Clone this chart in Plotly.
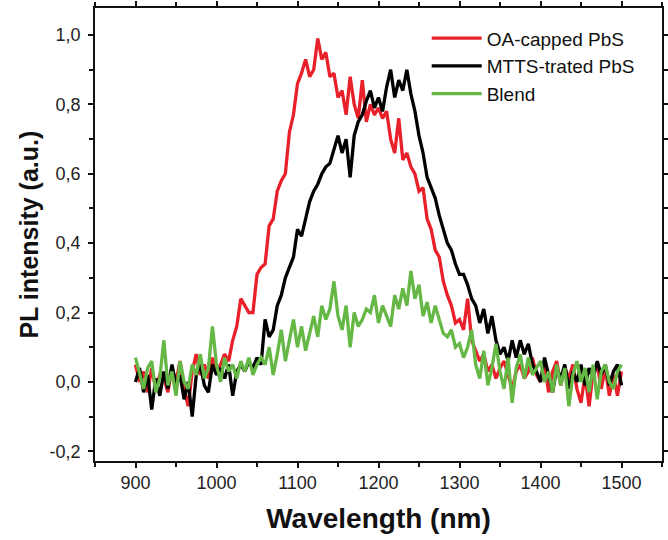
import plotly.graph_objects as go

wavelength = list(range(900, 1501, 5))

oa_capped = [
    0.05, 0.00, 0.03, -0.03, 0.04, -0.02, 0.02, 0.01, -0.03, 0.04,
    0.00, 0.06, -0.02, -0.07, 0.03, 0.08, 0.02, 0.05, 0.01, 0.07,
    0.03, 0.05, 0.08, 0.06, 0.12, 0.16, 0.24, 0.22, 0.20, 0.20,
    0.31, 0.33, 0.34, 0.45, 0.47, 0.55, 0.58, 0.60, 0.72, 0.77,
    0.86, 0.89, 0.93, 0.88, 0.90, 0.99, 0.93, 0.95, 0.88, 0.89,
    0.82, 0.84, 0.77, 0.88, 0.80, 0.76, 0.87, 0.75, 0.80, 0.77,
    0.79, 0.76, 0.78, 0.70, 0.66, 0.76, 0.64, 0.66, 0.62, 0.60,
    0.55, 0.56, 0.47, 0.44, 0.38, 0.36, 0.29, 0.25, 0.22, 0.17,
    0.18, 0.15, 0.24, 0.12, 0.09, 0.06, 0.08, 0.03, 0.05, 0.01,
    0.04, 0.06, 0.02, -0.02, 0.03, 0.05, 0.01, 0.03, 0.07, 0.02,
    0.00, 0.05, -0.03, 0.03, 0.06, -0.01, 0.04, 0.01, 0.05, -0.02,
    -0.06, 0.02, -0.07, 0.03, 0.05, -0.02, 0.04, -0.04, 0.02, -0.04,
    0.03,
]

mtts_treated = [
    0.00, 0.04, -0.03, 0.02, -0.08, 0.01, -0.04, 0.03, -0.02, 0.05,
    -0.01, 0.02, -0.05, 0.00, -0.10, 0.02, 0.05, -0.01, -0.03, 0.05,
    0.02, 0.04, 0.01, 0.05, -0.04, 0.03, 0.05, 0.03, 0.06, 0.04,
    0.07, 0.05, 0.18, 0.13, 0.15, 0.22, 0.25, 0.30, 0.33, 0.36,
    0.44, 0.42, 0.47, 0.52, 0.55, 0.57, 0.60, 0.62, 0.63, 0.67,
    0.71, 0.66, 0.70, 0.59, 0.71, 0.75, 0.77, 0.81, 0.84, 0.79,
    0.82, 0.78, 0.85, 0.90, 0.82, 0.87, 0.84, 0.90, 0.83, 0.78,
    0.71, 0.66, 0.59, 0.56, 0.53, 0.48, 0.44, 0.40, 0.38, 0.34,
    0.31, 0.31, 0.28, 0.24, 0.22, 0.17, 0.21, 0.14, 0.19, 0.12,
    0.08, 0.10, 0.06, 0.12, 0.07, 0.12, 0.08, 0.11, 0.05, 0.03,
    0.00, 0.07, 0.02, -0.03, 0.04, 0.01, 0.05, -0.02, 0.03, 0.00,
    0.05, -0.01, 0.04, 0.01, 0.06, 0.02, 0.05, -0.01, 0.03, 0.05,
    -0.01,
]

blend = [
    0.07, 0.02, -0.02, 0.04, 0.06, -0.03, 0.01, 0.12, -0.01, 0.03,
    -0.04, 0.06, 0.00, -0.02, 0.05, 0.02, 0.08, 0.01, 0.04, 0.16,
    0.05, 0.00, 0.07, 0.03, 0.05, 0.01, 0.06, 0.03, 0.07, 0.02,
    0.05, 0.07, 0.05, 0.10, 0.02, 0.08, 0.15, 0.06, 0.12, 0.18,
    0.10, 0.16, 0.09, 0.14, 0.19, 0.13, 0.22, 0.18, 0.21, 0.29,
    0.19, 0.15, 0.22, 0.10, 0.20, 0.16, 0.18, 0.21, 0.20, 0.25,
    0.17, 0.22, 0.19, 0.16, 0.25, 0.21, 0.27, 0.22, 0.32, 0.24,
    0.28, 0.19, 0.23, 0.17, 0.22, 0.18, 0.14, 0.13, 0.15, 0.10,
    0.11, 0.07, 0.10, 0.15, 0.05, 0.01, 0.09, -0.01, 0.04, 0.11,
    0.03, -0.02, 0.07, -0.06, 0.04, 0.08, 0.01, 0.07, 0.02, 0.04,
    0.06, 0.00, 0.03, -0.03, 0.05, -0.01, 0.04, -0.07, 0.02, 0.06,
    0.00, 0.04, -0.03, 0.05, -0.05, 0.03, 0.05, 0.00, -0.02, 0.03,
    0.05,
]

series_names = ["OA-capped PbS", "MTTS-trated PbS", "Blend"]
series_colors = ["#e8202a", "#000000", "#66b846"]
x_range = [850, 1550]
y_range = [-0.228, 1.078]
y_ticks = [-0.2, 0.0, 0.2, 0.4, 0.6, 0.8, 1.0]
y_tick_labels = ["-0,2", "0,0", "0,2", "0,4", "0,6", "0,8", "1,0"]
x_ticks = [900, 1000, 1100, 1200, 1300, 1400, 1500]

fig = go.Figure()
for name, vals, col in zip(series_names, [oa_capped, mtts_treated, blend], series_colors):
    fig.add_trace(go.Scatter(x=wavelength, y=vals, mode="lines", name=name,
                             line=dict(color=col, width=3.3)))

font_family = "Liberation Sans, Arial, sans-serif"
LC = "#111111"
LW = 1.5

fig.update_layout(
    width=668, height=540,
    margin=dict(l=95, r=6, t=8, b=79, autoexpand=False),
    paper_bgcolor="white", plot_bgcolor="white",
    font=dict(family=font_family, size=18, color="#222"),
    xaxis=dict(range=x_range, tickvals=x_ticks, ticks="outside", ticklen=5,
               showgrid=False, zeroline=False, automargin=False,
               showline=True, mirror="ticks", linecolor=LC, linewidth=LW, tickcolor=LC, tickwidth=LW,
               minor=dict(dtick=50, tick0=900, ticks="outside", ticklen=4, tickcolor=LC, tickwidth=LW),
               title=dict(text="<b>Wavelength (nm)</b>", font=dict(size=28, color="#111"), standoff=16),
               tickfont=dict(size=18, color="#222")),
    yaxis=dict(range=y_range, tickvals=y_ticks, ticktext=y_tick_labels, ticks="outside", ticklen=5,
               showgrid=False, zeroline=False, automargin=False,
               showline=True, mirror="ticks", linecolor=LC, linewidth=LW, tickcolor=LC, tickwidth=LW,
               ticklabelstandoff=4,
               minor=dict(dtick=0.1, tick0=0, ticks="outside", ticklen=4, tickcolor=LC, tickwidth=LW),
               tickfont=dict(size=18, color="#222")),
    annotations=[dict(text="<b>PL intensity (a.u.)</b>", textangle=-90, xref="paper", yref="paper",
                      x=-0.118, y=0.5, xanchor="center", yanchor="middle", showarrow=False,
                      font=dict(size=25, color="#111"))],
    legend=dict(x=0.585, y=0.975, xanchor="left", yanchor="top", bgcolor="rgba(0,0,0,0)",
                font=dict(size=19, color="#111"), itemwidth=50, tracegroupgap=0),
    showlegend=True,
)

fig.write_html("out.html", config={"displayModeBar": False},
               post_script="document.body.style.margin='0';")
